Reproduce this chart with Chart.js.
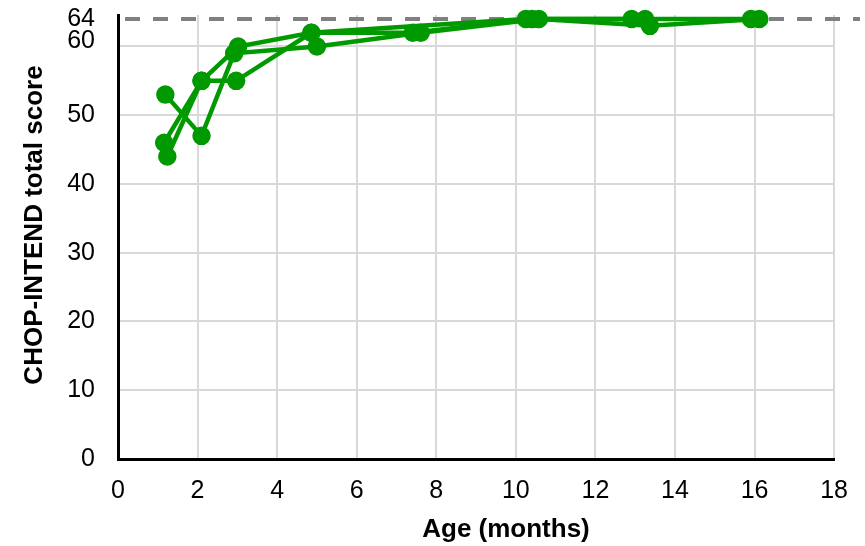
<!DOCTYPE html>
<html>
<head>
<meta charset="utf-8">
<script src="https://cdn.jsdelivr.net/npm/chart.js@4"></script>
<style>
html, body { margin: 0; padding: 0; background: #fff; }
#wrap { width: 865px; height: 546px; }
</style>
</head>
<body>
<div id="wrap"><canvas id="chart" width="865" height="546"></canvas></div>
<script>
// three patients, age in months vs CHOP-INTEND score
const ageA = [1.19, 2.1, 2.92, 5.0, 7.61, 10.58, 13.37, 16.12]
const scoreA = [53, 47, 59, 60, 62, 64, 63, 64]
const ageB = [1.16, 2.1, 3.02, 4.86, 7.41, 10.41, 12.91, 15.91]
const scoreB = [46, 55, 60, 62, 62, 64, 64, 64]
const ageC = [1.24, 2.1, 2.97, 4.86, 10.25, 13.25]
const scoreC = [44, 55, 55, 62, 64, 64]

const yTicks = [0, 10, 20, 30, 40, 50, 60, 64]
const maxScore = 64
const xTitle = 'Age (months)'
const yTitle = 'CHOP-INTEND total score'

const GREEN = '#009a00'
const FONT = "'Liberation Sans', Arial, sans-serif"

function points(xs, ys) {
    return xs.map((x, i) => ({ x: x, y: ys[i] }))
}

function patient(xs, ys) {
    return {
        data: points(xs, ys),
        borderColor: GREEN,
        backgroundColor: GREEN,
        borderWidth: 4.5,
        pointRadius: 7,
        pointHoverRadius: 7,
        tension: 0,
        clip: false
    }
}

// dashed max-score line + axis titles
const extras = {
    id: 'extras',
    beforeDatasetsDraw(chart) {
        const ctx = chart.ctx
        const y = chart.scales.y.getPixelForValue(maxScore)
        ctx.save()
        ctx.strokeStyle = '#808080'
        ctx.lineWidth = 4
        ctx.setLineDash([15, 13])
        ctx.beginPath()
        ctx.moveTo(chart.chartArea.left + 7, y)
        ctx.lineTo(chart.width - 5, y)
        ctx.stroke()
        ctx.restore()
    },
    afterDraw(chart) {
        const ctx = chart.ctx
        ctx.save()
        ctx.fillStyle = '#000'
        ctx.font = 'bold 26px ' + FONT
        ctx.textAlign = 'center'
        ctx.textBaseline = 'alphabetic'
        ctx.fillText(xTitle, 506, 537)
        ctx.translate(42, 225)
        ctx.rotate(-Math.PI / 2)
        ctx.fillText(yTitle, 0, 0)
        ctx.restore()
    }
}

new Chart(document.getElementById('chart'), {
    type: 'line',
    data: {
        datasets: [patient(ageA, scoreA), patient(ageB, scoreB), patient(ageC, scoreC)]
    },
    options: {
        responsive: false,
        animation: false,
        devicePixelRatio: 1,
        layout: { padding: { left: 0, top: 15, right: 27, bottom: 0 } },
        plugins: { legend: { display: false }, tooltip: { enabled: false } },
        scales: {
            x: {
                type: 'linear',
                min: 0,
                max: 18,
                ticks: { stepSize: 2, padding: 17, color: '#000', font: { family: FONT, size: 25 } },
                grid: {
                    drawTicks: false,
                    lineWidth: 2,
                    color: c => c.tick && c.tick.value === 0 ? 'rgba(0,0,0,0)' : '#d9d9d9'
                },
                border: { color: '#000', width: 3 },
                afterFit: scale => { scale.height = 87 }
            },
            y: {
                type: 'linear',
                min: 0,
                max: 64.58,
                afterBuildTicks: scale => { scale.ticks = yTicks.map(v => ({ value: v })) },
                ticks: {
                    padding: 23,
                    color: '#000',
                    callback: v => v === 60 ? ['60', ''] : String(v),
                    font: c => c.tick && c.tick.value === 60
                        ? { family: FONT, size: 25, lineHeight: 0.4 }
                        : { family: FONT, size: 25 }
                },
                grid: {
                    drawTicks: false,
                    lineWidth: 2,
                    color: c => c.tick && (c.tick.value === 0 || c.tick.value === maxScore) ? 'rgba(0,0,0,0)' : '#d9d9d9'
                },
                border: { color: '#000', width: 3 },
                afterFit: scale => {
                    scale.width = 118
                    scale.paddingTop = 0
                    scale.paddingBottom = 0
                }
            }
        }
    },
    plugins: [extras]
})
</script>
</body>
</html>
